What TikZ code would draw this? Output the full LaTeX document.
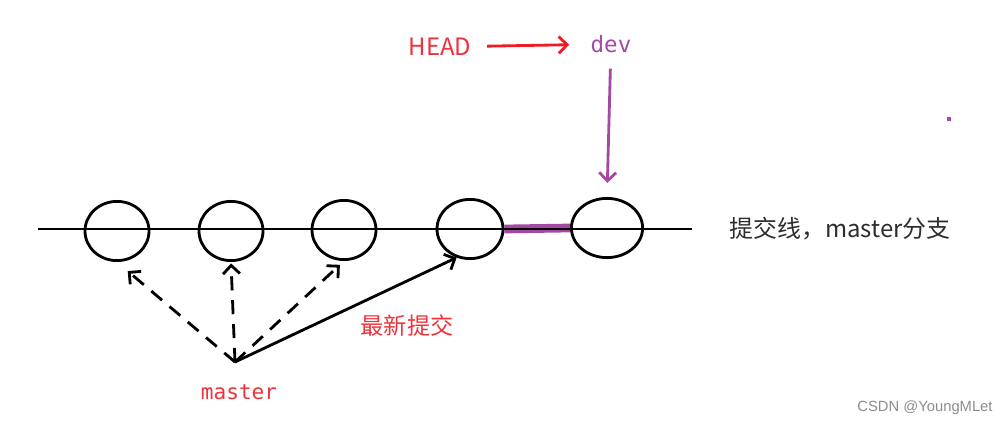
\documentclass[tikz,border=0pt]{standalone}
\usepackage{fontspec}
\setmainfont{Liberation Sans}
\setmonofont{DejaVu Sans Mono}
\newfontfamily\cjk{Noto Sans CJK SC}
\usetikzlibrary{shapes.geometric, arrows.meta, positioning, calc}
\definecolor{headred}{RGB}{237,28,36}
\definecolor{textred}{RGB}{238,50,60}
\definecolor{devpurple}{RGB}{163,73,164}
\definecolor{notegray}{RGB}{45,45,45}
\definecolor{markgray}{RGB}{140,140,140}

\begin{document}
\begin{tikzpicture}[x=0.025cm, y=-0.025cm, line width=2pt]
  \useasboundingbox (0,0) rectangle (1004,425);
  \tikzset{
    commit/.style={
      ellipse, draw=black, line width=2pt,
      minimum width=1.6cm, minimum height=1.48cm,
      inner sep=0pt, fill=none
    },
    tip/.style={-{Straight Barb[length=6pt, width=12pt]}},
    dashlink/.style={tip, dash pattern=on 10pt off 7pt}
  }
  % commit line and the five commits
  \coordinate (lstart) at (38,229);
  \coordinate (lend) at (692,229);
  \node[commit] (c1) at (117,231) {};
  \node[commit] (c2) at (231,231) {};
  \node[commit] (c3) at (344,230) {};
  \node[commit, minimum width=1.65cm] (c4) at (470,229) {};
  \node[commit, minimum width=1.78cm] (c5) at (607,228) {};
  % dev segment, purple under the black line
  \draw[devpurple, line width=6.2pt] (c4.east) -- (c5.west);
  \draw (lstart) -- (lend);
  % labels
  \node[font=\cjk\fontsize{17}{20}\selectfont, text=textred] (head) at (440,47) {HEAD};
  \node[font=\ttfamily\fontsize{16}{19}\selectfont, text=devpurple] (dev) at (611,44) {dev};
  \node[font=\ttfamily\fontsize{15}{18}\selectfont, text=textred] (master) at (239,392) {master};
  \node[font=\cjk\fontsize{16.5}{20}\selectfont, text=textred] (latest) at (407,326) {最新提交};
  \node[font=\cjk\fontsize{17}{20}\selectfont, text=notegray] (note) at (840,229) {提交线，master分支};
  \node[font=\fontsize{10.5}{12}\selectfont, text=markgray] (csdn) at (925,408) {CSDN @YoungMLet};
  \coordinate (mroot) at (235,362);
  \fill[devpurple] (947,117) rectangle (951,121);
  % HEAD -> dev -> newest commit
  \draw[tip, headred, shorten <=7pt, shorten >=11pt] (head) -- (dev);
  \draw[tip, devpurple, shorten <=7pt, shorten >=10pt] (dev) -- (c5.north);
  % master pointers
  \foreach \to/\gap in {c1.south/10pt, c2.south/1pt, c3.south/4pt}{
    \draw[dashlink, shorten >=\gap] (mroot) -- (\to);
  }
  \draw[tip] (mroot) -- (c4.-115);
\end{tikzpicture}
\end{document}
